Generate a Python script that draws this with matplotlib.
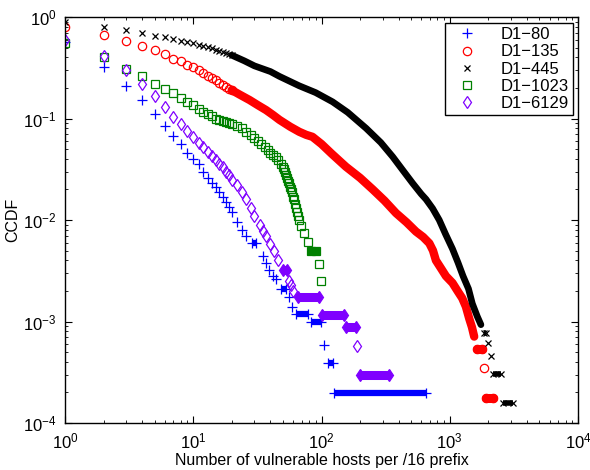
import numpy as np
import matplotlib
matplotlib.use('Agg')
import matplotlib.pyplot as plt

plt.rcParams['font.family'] = ['Liberation Sans', 'DejaVu Sans']
plt.rcParams['mathtext.fontset'] = 'custom'
plt.rcParams['mathtext.rm'] = 'Liberation Sans'
plt.rcParams['mathtext.it'] = 'Liberation Sans:italic'

labels = ['D1\u221280', 'D1\u2212135', 'D1\u2212445', 'D1\u22121023', 'D1\u22126129']

#D1-80 (blue +)
blue_x = [1, 2, 3, 4, 5, 6, 7, 8, 9, 10, 11, 12, 13, 14, 15, 16, 17, 18, 19, 20,
          22, 24, 26, 35, 37, 39, 42, 44, 56, 59, 105]
blue_y = [0.57, 0.32, 0.21, 0.152, 0.111, 0.085, 0.067, 0.056, 0.046, 0.040,
          0.0356, 0.030, 0.026, 0.023, 0.021, 0.019, 0.017, 0.0152, 0.0135, 0.0120,
          0.0095, 0.0080, 0.0070, 0.0044, 0.0038, 0.0032, 0.0028, 0.0026, 0.00176, 0.0014, 0.00059]
blue_run_x0 = [28.5, 48.5, 63.5, 82.5, 111.5, 126]
blue_run_x1 = [31, 52.5, 78, 99, 122, 650]
blue_run_y = [0.0059, 0.0021, 0.00118, 0.00098, 0.00039, 0.000196]

#D1-135 (red o)
red_x = [1, 2, 3, 4, 5, 6, 7, 8, 9, 10, 11, 12, 13, 14, 15, 16, 17, 18, 19, 20, 1854]
red_y = [0.79, 0.67, 0.58, 0.52, 0.47, 0.43, 0.39, 0.37, 0.34, 0.32,
         0.30, 0.28, 0.265, 0.25, 0.237, 0.225, 0.215, 0.205, 0.197, 0.19, 0.00035]
red_band_x = [20, 23, 27.5, 32, 37, 42, 47, 57, 67, 76, 85, 100, 120, 155, 200, 251, 310, 381,
              460, 545, 620, 693, 740, 780, 860, 934, 1050, 1150, 1250, 1336, 1418, 1489, 1551]
red_band_y = [0.19, 0.172, 0.152, 0.135, 0.121, 0.108, 0.097, 0.083, 0.074, 0.069, 0.066, 0.056,
              0.045, 0.0335, 0.026, 0.020, 0.0155, 0.0117, 0.0095, 0.0077, 0.0068, 0.0059, 0.0050,
              0.0040, 0.0033, 0.0028, 0.0024, 0.0020, 0.0017, 0.0014, 0.00107, 0.00088, 0.00071]
red_run_x0 = [1640, 1925]
red_run_x1 = [1790, 2160]
red_run_y = [0.00053, 0.000176]

#D1-445 (black x)
black_x = [1, 2, 3, 4, 5, 6, 7, 8, 9, 10, 11, 12, 13, 14, 15, 16, 17, 18, 19, 20, 2004, 2091]
black_y = [0.90, 0.80, 0.74, 0.69, 0.65, 0.63, 0.61, 0.58, 0.57, 0.55,
           0.535, 0.52, 0.505, 0.49, 0.475, 0.46, 0.45, 0.44, 0.43, 0.42, 0.00062, 0.00046]
black_band_x = [20, 25, 30, 40, 47, 67, 90, 122, 160, 223, 290, 359, 430, 514, 600, 653, 735,
                828, 930, 1050, 1160, 1270, 1400, 1500, 1640, 1750]
black_band_y = [0.42, 0.37, 0.33, 0.29, 0.26, 0.21, 0.18, 0.146, 0.115, 0.080, 0.058, 0.042,
                0.031, 0.023, 0.018, 0.016, 0.013, 0.010, 0.0072, 0.0052, 0.0038, 0.0028,
                0.0021, 0.0015, 0.00112, 0.00093]
black_run_x0 = [1850, 2180, 2610]
black_run_x1 = [1930, 2495, 3120]
black_run_y = [0.00077, 0.000306, 0.000156]

#D1-1023 (green squares)
green_x = [1, 2, 3, 4, 5, 6, 7, 8, 9, 10, 11, 12, 13, 14, 15, 16, 17, 18, 19, 20,
           22, 24, 26, 28, 30, 32, 34, 36, 38, 40, 42, 44, 46, 48, 50, 51, 52, 53, 54,
           55, 56, 57, 58, 59, 60, 61, 62, 63, 64, 65, 67, 69, 73, 79, 95.5, 99.5]
green_y = [0.55, 0.40, 0.31, 0.26, 0.22, 0.195, 0.177, 0.158, 0.147, 0.136,
           0.125, 0.117, 0.110, 0.105, 0.100, 0.097, 0.094, 0.092, 0.090, 0.088,
           0.084, 0.080, 0.074, 0.069, 0.064, 0.060, 0.056, 0.052, 0.049, 0.046, 0.044,
           0.042, 0.039, 0.036, 0.0335, 0.032, 0.030, 0.028, 0.026, 0.024, 0.023, 0.021,
           0.020, 0.019, 0.017, 0.016, 0.0145, 0.013, 0.012, 0.011, 0.0100, 0.0088,
           0.0074, 0.0061, 0.0037, 0.0025]
green_run_x0 = [82.5]
green_run_x1 = [91]
green_run_y = [0.0050]

#D1-6129 (purple diamonds)
purple_x = [1, 2, 3, 4, 5, 6, 7, 8, 9, 10, 11, 12, 13, 14, 15, 16, 17, 18, 19, 20,
            22, 24, 26, 28, 30, 33, 35, 37, 40, 43, 46, 56, 58, 60, 190]
purple_y = [0.59, 0.41, 0.30, 0.22, 0.168, 0.131, 0.104, 0.088, 0.075, 0.065,
            0.058, 0.052, 0.047, 0.043, 0.039, 0.036, 0.033, 0.030, 0.0275, 0.025,
            0.022, 0.019, 0.016, 0.0130, 0.0110, 0.0090, 0.0078, 0.0069, 0.0058, 0.0049,
            0.0040, 0.0025, 0.0023, 0.0020, 0.00058]
purple_run_x0 = [50, 65.5, 100, 154, 199]
purple_run_x1 = [54, 96, 151, 185, 335]
purple_run_y = [0.0032, 0.00176, 0.00116, 0.00088, 0.000295]


def draw(ax, color, marker, ms, lab, px, py, bx, by, blw, rx0, rx1, ry, rlw, cap):
    ax.plot(px, py, ls='none', marker=marker, ms=ms, mfc='none', mec=color, mew=0.9, label=lab)
    if bx:
        ax.plot(bx, by, '-', color=color, lw=blw, solid_capstyle='round')
    for x0, x1, y in zip(rx0, rx1, ry):
        ax.plot([x0, x1], [y, y], '-', color=color, lw=rlw, solid_capstyle=cap)
        ax.plot([x0, x1], [y, y], ls='none', marker=marker, ms=ms, mfc=color, mec=color, mew=0.9)


fig = plt.figure(figsize=(5.9, 4.7), dpi=100)
ax = fig.add_axes([65 / 590, 1 - 423 / 470, 513 / 590, 406 / 470])

draw(ax, 'blue', '+', 6.5, labels[0], blue_x, blue_y, None, None, 0,
     blue_run_x0, blue_run_x1, blue_run_y, 4.5, 'butt')
draw(ax, 'red', 'o', 6, labels[1], red_x, red_y, red_band_x, red_band_y, 6,
     red_run_x0, red_run_x1, red_run_y, 6.5, 'round')
draw(ax, 'black', 'x', 4.5, labels[2], black_x, black_y, black_band_x, black_band_y, 4.8,
     black_run_x0, black_run_x1, black_run_y, 4, 'butt')
draw(ax, 'green', 's', 5.5, labels[3], green_x, green_y, None, None, 0,
     green_run_x0, green_run_x1, green_run_y, 5, 'butt')
draw(ax, '#7F00FF', 'd', 6.5, labels[4], purple_x, purple_y, None, None, 0,
     purple_run_x0, purple_run_x1, purple_run_y, 6.5, 'butt')

ax.set_xscale('log')
ax.set_yscale('log')
ax.set_xlim(1, 1e4)
ax.set_ylim(1e-4, 1)
ax.tick_params(which='both', direction='in', top=True, right=True, labelsize=12)
ax.tick_params(which='major', length=5, width=0.8, pad=6)
ax.tick_params(which='minor', length=2.5, width=0.6)
for s in ax.spines.values():
    s.set_linewidth(1.0)
ax.set_xlabel('Number of vulnerable hosts per /16 prefix', fontsize=11.5, labelpad=1)
ax.set_ylabel('CCDF', fontsize=11.5, labelpad=2)

leg = ax.legend(loc='upper right', bbox_to_anchor=(0.990, 0.985), borderaxespad=0,
                fancybox=False, framealpha=1, edgecolor='black', fontsize=12,
                labelspacing=0.13, handlelength=2.2, handletextpad=0.9, borderpad=0.25)
leg.get_frame().set_linewidth(1.0)

plt.savefig('out.png', dpi=100)
